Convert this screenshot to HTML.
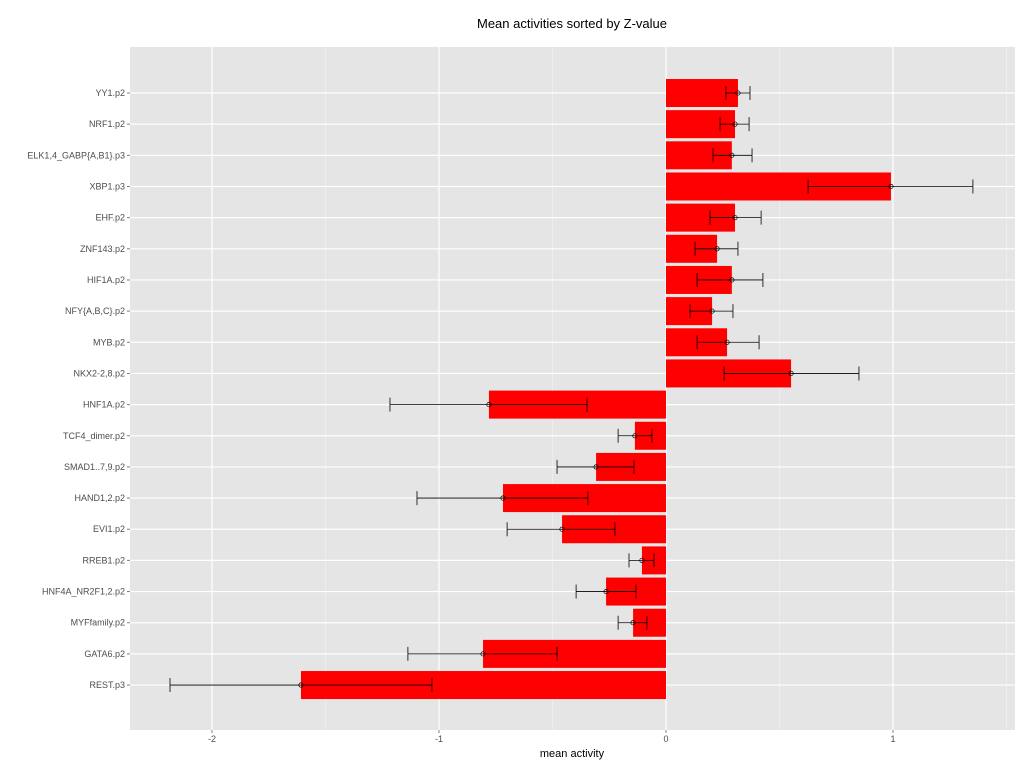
<!DOCTYPE html>
<html><head><meta charset="utf-8"><style>
body{margin:0;background:#fff;font-family:"Liberation Sans",sans-serif}
</style></head><body>
<svg id="chart" width="1028" height="768" xmlns="http://www.w3.org/2000/svg"></svg>
<script>
const categories=["YY1.p2","NRF1.p2","ELK1,4_GABP{A,B1}.p3","XBP1.p3","EHF.p2","ZNF143.p2","HIF1A.p2","NFY{A,B,C}.p2","MYB.p2","NKX2-2,8.p2","HNF1A.p2","TCF4_dimer.p2","SMAD1..7,9.p2","HAND1,2.p2","EVI1.p2","RREB1.p2","HNF4A_NR2F1,2.p2","MYFfamily.p2","GATA6.p2","REST.p3"];
const means=[0.317,0.304,0.29,0.991,0.304,0.225,0.29,0.203,0.269,0.551,-0.78,-0.137,-0.308,-0.718,-0.458,-0.106,-0.264,-0.145,-0.806,-1.608];
const lows=[0.264,0.238,0.207,0.626,0.194,0.128,0.137,0.106,0.137,0.256,-1.216,-0.211,-0.48,-1.097,-0.7,-0.163,-0.396,-0.211,-1.137,-2.185];
const highs=[0.37,0.366,0.379,1.352,0.419,0.317,0.427,0.295,0.41,0.85,-0.348,-0.062,-0.141,-0.344,-0.225,-0.053,-0.132,-0.084,-0.48,-1.031];
const xTicks=[-2,-1,0,1];
const xMinor=[-1.5,-0.5,0.5,1.5];
const svg=document.getElementById('chart');
const NS='http://www.w3.org/2000/svg';
const L=130,R=1015,T=47,B=730;
const x=v=>666+v*227;
const y=i=>93+i*31.16;
function mk(tag,a,name){const e=document.createElementNS(NS,tag);for(const k in a)e.setAttribute(k,a[k]);svg.appendChild(e);


return e;}
mk('rect',{x:L,y:T,width:R-L,height:B-T,fill:'#e5e5e5'},'plot-panel');
xMinor.forEach(v=>mk('line',{x1:x(v),x2:x(v),y1:T,y2:B,stroke:'#f2f2f2','stroke-width':0.6},'minor-gridline'));
xTicks.forEach(v=>mk('line',{x1:x(v),x2:x(v),y1:T,y2:B,stroke:'#fff','stroke-width':1.2},'major-gridline'));
categories.forEach((c,i)=>mk('line',{x1:L,x2:R,y1:y(i),y2:y(i),stroke:'#fff','stroke-width':1.2},'row-gridline'));
categories.forEach((c,i)=>{
 const m=means[i];
 mk('rect',{x:Math.min(x(0),x(m)),y:y(i)-14,width:Math.abs(x(m)-x(0)),height:28,fill:'#ff0000'},'bar-'+i);
 mk('line',{x1:x(lows[i]),x2:x(highs[i]),y1:y(i),y2:y(i),stroke:'#000','stroke-width':0.8},'errorbar-'+i);
 [lows[i],highs[i]].forEach(v=>mk('line',{x1:x(v),x2:x(v),y1:y(i)-7,y2:y(i)+7,stroke:'#000','stroke-width':0.8},'errorbar-cap'));
 mk('circle',{cx:x(m),cy:y(i),r:2.2,fill:'none',stroke:'#000','stroke-width':0.7},'mean-point-'+i);
 const t=mk('text',{x:L-5,y:y(i)+3,'text-anchor':'end','font-size':9,fill:'#4d4d4d'},'y-tick-label');t.textContent=c;
 mk('line',{x1:L-3,x2:L,y1:y(i),y2:y(i),stroke:'#7f7f7f'},'y-tick');
});
xTicks.forEach(v=>{mk('line',{x1:x(v),x2:x(v),y1:B,y2:B+3,stroke:'#7f7f7f'},'x-tick');
 const t=mk('text',{x:x(v),y:B+12,'text-anchor':'middle','font-size':9,fill:'#4d4d4d'},'x-tick-label');t.textContent=v;});
let t=mk('text',{x:572,y:757,'text-anchor':'middle','font-size':11,fill:'#000'},'x-axis-title');t.textContent='mean activity';
t=mk('text',{x:572,y:28,'text-anchor':'middle','font-size':13,fill:'#000'},'chart-title');t.textContent='Mean activities sorted by Z-value';
</script>
</body></html>
